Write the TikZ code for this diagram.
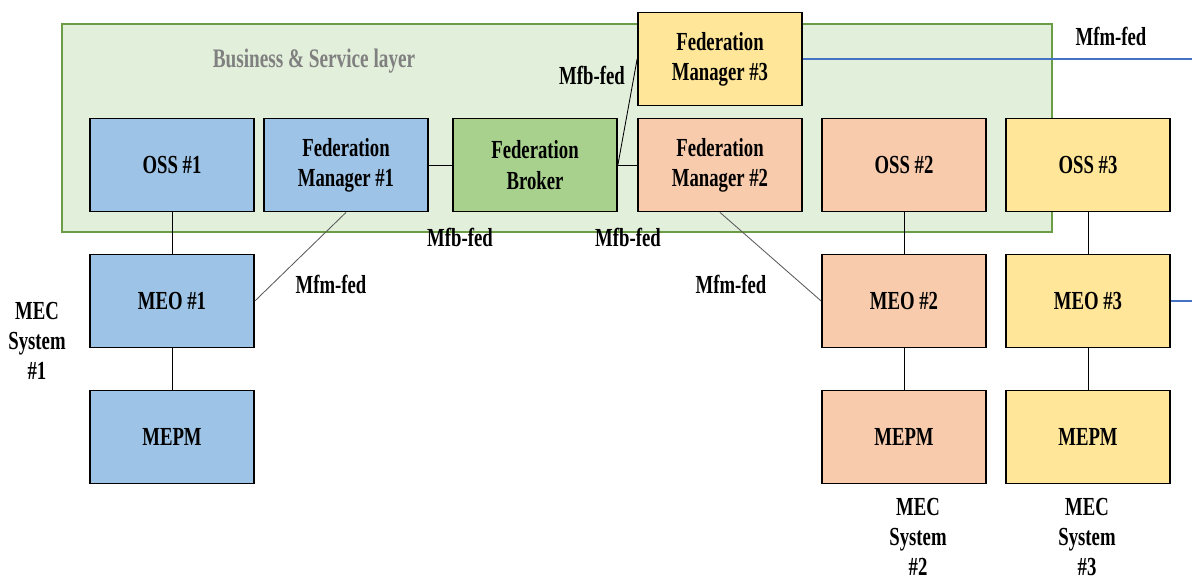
\documentclass[tikz,border=0pt]{standalone}
\usepackage{fontspec}
\setmainfont[FakeStretch=0.72]{Liberation Serif}
\definecolor{sysblue}{HTML}{9DC3E6}
\definecolor{sysorange}{HTML}{F8CBAD}
\definecolor{sysyellow}{HTML}{FFE699}
\definecolor{brokergreen}{HTML}{A9D18E}
\definecolor{layerfill}{HTML}{E2EFDA}
\definecolor{layerdraw}{HTML}{6A9D45}
\definecolor{fedblue}{HTML}{4472C4}
\begin{document}
\begin{tikzpicture}[x=0.025cm,y=-0.025cm,
    box/.style={draw,line width=1.2pt,minimum width=4.1cm,minimum height=2.33cm,inner sep=0pt,align=center,font=\fontsize{18.5}{21.5}\selectfont\bfseries},
    lbl/.style={font=\fontsize{18.5}{21.5}\selectfont\bfseries,align=center,inner sep=0pt},
    link/.style={line width=0.6pt},
    fedlink/.style={line width=0.6pt,black!65}]
    \useasboundingbox (0,0) rectangle (1192,582);
    % business & service layer
    \node [draw=layerdraw,fill=layerfill,line width=1.5pt,minimum width=24.75cm,minimum height=5.2cm,inner sep=0pt] (layer) at (557,128) {};
    \node [lbl,text=black!50,font=\fontsize{19}{22}\selectfont\bfseries] (layername) at (314,61) {Business \& Service layer};
    
    \node [box,fill=sysblue] (oss1) at (172,165) {OSS \#1};
    \node [box,fill=sysblue] (fm1) at (346,165) {Federation\\Manager \#1};
    \node [box,fill=brokergreen] (broker) at (535,165) {Federation\\Broker};
    \node [box,fill=sysorange] (fm2) at (720,165) {Federation\\Manager \#2};
    \node [box,fill=sysorange] (oss2) at (904,165) {OSS \#2};
    \node [box,fill=sysyellow] (oss3) at (1088,165) {OSS \#3};
    \node [box,fill=sysyellow] (fm3) at (720,59) {Federation\\Manager \#3};
    
    \node [box,fill=sysblue] (meo1) at (172,301) {MEO \#1};
    \node [box,fill=sysblue] (mepm1) at (172,437) {MEPM};
    \node [box,fill=sysorange] (meo2) at (904,301) {MEO \#2};
    \node [box,fill=sysorange] (mepm2) at (904,437) {MEPM};
    \node [box,fill=sysyellow] (meo3) at (1088,301) {MEO \#3};
    \node [box,fill=sysyellow] (mepm3) at (1088,437) {MEPM};
    
    % connectors
    \draw [link] (oss1) -- (meo1);
    \draw [link] (meo1) -- (mepm1);
    \draw [link] (oss2) -- (meo2);
    \draw [link] (meo2) -- (mepm2);
    \draw [link] (oss3) -- (meo3);
    \draw [link] (meo3) -- (mepm3);
    \draw [link] (fm1) -- (broker);
    \draw [link] (broker) -- (fm2);
    \draw [link] (broker.east) -- (fm3.west);
    \draw [fedlink] (fm1.south) -- (meo1.east);
    \draw [fedlink] (fm2.south) -- (meo2.west);
    
    \coordinate (outfm) at (1192,59);
    \coordinate (outmeo) at (1192,301);
    \draw [fedblue,line width=0.8pt] (fm3.east) -- (outfm);
    \draw [fedblue,line width=0.8pt] (meo3.east) -- (outmeo);
    
    % interface labels
    \node [lbl] (mfb1) at (592,75) {Mfb-fed};
    \node [lbl] (mfb2) at (460,237) {Mfb-fed};
    \node [lbl] (mfb3) at (628,237) {Mfb-fed};
    \node [lbl] (mfm1) at (331,284) {Mfm-fed};
    \node [lbl] (mfm2) at (731,284) {Mfm-fed};
    \node [lbl] (mfm3) at (1111,36) {Mfm-fed};
    
    \node [lbl] (sys1) at (37,341) {MEC\\System\\\#1};
    \node [lbl] (sys2) at (918,537) {MEC\\System\\\#2};
    \node [lbl] (sys3) at (1087,537) {MEC\\System\\\#3};
\end{tikzpicture}
\end{document}
